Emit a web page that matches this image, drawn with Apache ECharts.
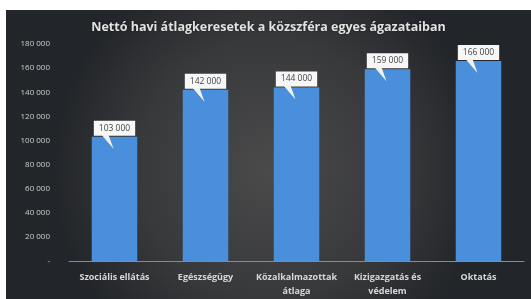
<!DOCTYPE html>
<html><head><meta charset="utf-8">
<script src="https://cdn.jsdelivr.net/npm/echarts@6/dist/echarts.min.js"></script>
<style>
html,body{margin:0;padding:0;background:#fff;width:531px;height:299px;overflow:hidden}
#c{position:absolute;left:6px;top:10px;width:525px;height:289px}
</style></head><body>
<div id="c"></div>
<script>
const title = 'Nettó havi átlagkeresetek a közszféra egyes ágazataiban';
const categories = ['Szociális ellátás', 'Egészségügy', 'Közalkalmazottak\nátlaga', 'Kizigazgatás és\nvédelem', 'Oktatás'];
const values = [103000, 142000, 144000, 159000, 166000];
const yTicks = [0, 20000, 40000, 60000, 80000, 100000, 120000, 140000, 160000, 180000];

const fmt = v => v === 0 ? '-' : String(v).replace(/\B(?=(\d{3})+(?!\d))/g, ' ');
const chart = echarts.init(document.getElementById('c'));
chart.setOption({
  backgroundColor: {type:'radial', x:0.5, y:0.55, r:0.75, colorStops:[
    {offset:0, color:'#4a4a4b'}, {offset:0.6, color:'#38393b'}, {offset:1, color:'#222529'}]},
  title: {text: title, left: 'center', top: 6,
    textStyle: {color:'#e2e2e2', fontSize: 12.5, fontWeight:'bold', fontFamily:'Open Sans', textShadowColor:'rgba(0,0,0,0.5)', textShadowBlur:2}},
  grid: {left: 63, right: 7, top: 34, bottom: 38},
  xAxis: {type:'category', data: categories,
    axisLine:{lineStyle:{color:'#8a8a8a', width:1}}, axisTick:{show:false},
    axisLabel:{color:'#d8d8d8', fontSize:9, fontWeight:'bold', fontFamily:'Open Sans', margin:9, lineHeight:14, interval:0}},
  yAxis: {type:'value', min:0, max:180000, interval:20000,
    axisLine:{show:false}, axisTick:{show:false}, splitLine:{show:false},
    axisLabel:{color:'#cfcfcf', fontSize:8, fontFamily:'Open Sans', margin:19, formatter: fmt}},
  series: [
    {type:'bar', data: values, barWidth:'50%', itemStyle:{color:'#4a8fdc'},
     label:{show:true, position:'top', distance:1, formatter: p => fmt(p.value),
       backgroundColor:'#f7f7f7', color:'#444', fontSize:8.5, fontFamily:'Open Sans',
       padding:[3,5,3,5], borderRadius:0}, z:2},
    {type:'custom', data: values.map((v,i)=>[i,v]), z:3, silent:true,
     renderItem: (params, api) => {
       const p = api.coord([api.value(0), api.value(1)]);
       return {type:'polygon', shape:{points:[[p[0]-13,p[1]-2],[p[0]-6,p[1]-2],[p[0]-1,p[1]+12]]},
         style:{fill:'#f2f2f2'}};
     }}
  ]
});
</script></body></html>
